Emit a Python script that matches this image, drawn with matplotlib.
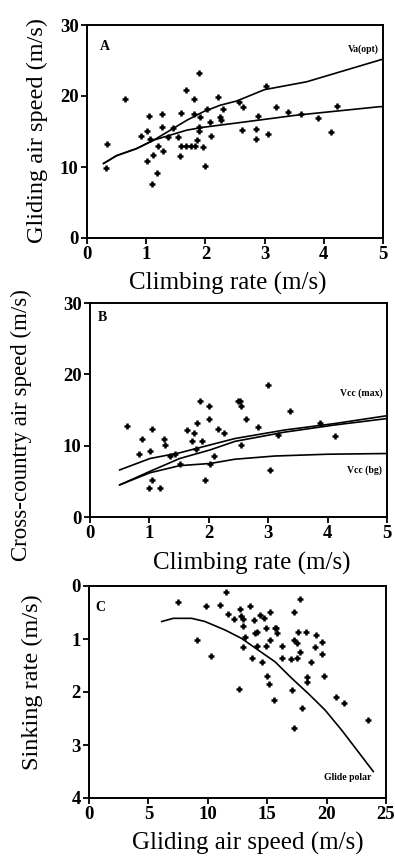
import matplotlib
matplotlib.use("Agg")
import matplotlib.pyplot as plt

plt.rcParams['font.family'] = ['Liberation Serif', 'DejaVu Serif']

# ---------------- Panel A data ----------------
a_climb = [0.33, 0.32, 0.65, 0.92, 1.02, 1.02, 1.05, 1.06, 1.12, 1.09, 1.19, 1.20, 1.26, 1.27,
           1.29, 1.37, 1.46, 1.54, 1.57, 1.59, 1.59, 1.67, 1.68, 1.76, 1.81, 1.81, 1.82, 1.85,
           1.90, 1.91, 1.90, 1.89, 1.96, 1.99, 2.03, 2.08, 2.09, 2.21, 2.24, 2.29, 2.27,
           2.57, 2.64, 2.61, 2.85, 2.85, 2.89, 3.02, 3.05, 3.19, 3.40, 3.62, 3.90, 4.13, 4.23]
a_glide = [13.3, 9.8, 19.6, 14.3, 15.1, 10.9, 17.2, 13.9, 11.7, 7.6, 9.1, 12.9, 17.4, 15.6,
           12.3, 14.2, 15.5, 14.2, 11.5, 17.6, 13.0, 20.9, 13.0, 13.0, 17.4, 19.6, 12.9, 13.8,
           23.3, 17.1, 15.6, 15.1, 12.8, 10.2, 18.1, 16.4, 14.3, 19.8, 17.1, 18.1, 16.6,
           19.1, 18.5, 15.2, 15.4, 13.9, 17.2, 21.4, 14.6, 18.4, 17.7, 17.4, 16.9, 14.9, 18.6]
va_opt_x = [0.28, 0.50, 0.84, 1.13, 1.41, 1.69, 1.97, 2.25, 2.53, 3.00, 3.71, 5.00]
va_opt_y = [10.5, 11.6, 12.6, 13.8, 15.2, 16.6, 17.8, 18.7, 19.3, 20.9, 22.0, 25.2]
va_low_x = [0.28, 0.50, 0.84, 1.13, 1.41, 1.69, 1.97, 2.25, 2.53, 3.54, 4.95, 5.00]
va_low_y = [10.5, 11.6, 12.6, 13.8, 14.5, 15.2, 15.6, 15.9, 16.2, 17.3, 18.5, 18.5]

# ---------------- Panel B data ----------------
b_climb = [0.62, 1.04, 0.87, 0.83, 1.01, 1.24, 1.26, 1.05, 1.00, 1.18, 1.63, 1.75, 1.80,
           1.85, 2.01, 2.01, 1.71, 1.89, 2.16, 2.25, 2.09, 1.93, 1.35, 1.51, 1.79, 2.02,
           2.49, 2.52, 2.54, 2.62, 2.82, 3.00, 3.36, 3.87, 4.12, 3.03, 2.55, 3.17, 1.43]
b_cc = [12.7, 12.4, 11.0, 8.9, 9.2, 11.0, 10.1, 5.2, 4.0, 4.0, 12.2, 11.8, 13.2,
        16.3, 15.6, 13.8, 10.7, 10.7, 12.4, 11.8, 8.6, 5.2, 8.6, 7.5, 9.6, 7.5,
        16.3, 16.3, 15.6, 13.8, 12.6, 18.5, 14.9, 13.2, 11.3, 6.6, 10.1, 11.5, 8.9]
vcc_max_x = [0.50, 1.01, 1.51, 2.02, 2.44, 3.28, 4.12, 5.00]
vcc_max_y = [6.6, 8.2, 9.0, 10.1, 11.0, 12.2, 13.1, 14.2]
vcc_mid_x = [0.50, 1.01, 1.51, 2.02, 2.44, 3.28, 4.12, 5.00]
vcc_mid_y = [4.5, 6.4, 8.2, 9.4, 10.6, 11.9, 12.9, 13.8]
vcc_bg_x = [0.50, 1.01, 1.51, 2.02, 2.44, 3.11, 4.00, 5.00]
vcc_bg_y = [4.5, 6.2, 7.2, 7.5, 8.1, 8.55, 8.8, 8.9]

# ---------------- Panel C data ----------------
c_speed = [11.53, 7.52, 9.85, 11.03, 11.73, 12.2, 12.71, 12.77, 12.93, 12.99, 13.55, 13.89,
           14.39, 14.73, 15.24, 13.97, 14.17, 13.13, 12.99, 14.11, 13.69, 14.54, 14.9, 15.24,
           14.9, 15.66, 9.12, 10.24, 12.65, 15.0, 15.18, 15.57,
           17.76, 17.26, 15.74, 15.8, 16.27, 17.26, 17.48, 17.62, 18.27, 17.76, 17.48, 16.98,
           16.27, 19.1, 19.59, 19.02, 19.59, 18.66, 18.38, 18.38, 19.78, 17.06, 17.9, 17.26,
           20.79, 21.46, 23.51]
c_sink = [0.11, 0.30, 0.38, 0.35, 0.53, 0.62, 0.43, 0.57, 0.63, 0.75, 0.38, 0.64,
          0.55, 0.60, 0.49, 0.88, 0.87, 0.97, 1.16, 1.13, 1.35, 1.43, 0.79, 1.01,
          1.13, 0.79, 1.01, 1.32, 1.94, 1.70, 1.85, 2.15,
          0.24, 0.49, 0.79, 0.88, 1.13, 1.01, 1.08, 0.86, 0.86, 1.25, 1.35, 1.38,
          1.35, 0.93, 1.06, 1.16, 1.28, 1.43, 1.71, 1.81, 1.70, 1.96, 2.30, 2.67,
          2.09, 2.21, 2.53]
polar_x = [6.12, 7.1, 8.64, 9.76, 11.45, 12.85, 14.25, 15.66, 17.06, 18.46, 19.87, 21.27, 22.67, 23.93]
polar_y = [0.67, 0.61, 0.61, 0.67, 0.83, 0.99, 1.21, 1.43, 1.74, 2.03, 2.34, 2.72, 3.13, 3.50]

W, H = 395, 861
fig = plt.figure(figsize=(W / 100, H / 100), dpi=100)


def make_ax(l, t, r, b):
    return fig.add_axes([l / W, (H - b) / H, (r - l) / W, (b - t) / H])


axA = make_ax(87, 25, 383, 238)
axB = make_ax(90, 303, 387, 517)
axC = make_ax(89, 586, 386, 798)

mk = dict(linestyle='none', marker='+', markersize=5, mew=1.8, color='black')
lk = dict(color='black', lw=1.2)
ylab_fs = 17.5
xlab_fs = 18
tick_fs = 13.5

for ax in (axA, axB, axC):
    for s in ax.spines.values():
        s.set_linewidth(1.4)
        s.set_color('black')
    ax.tick_params(direction='out', length=4, width=1.3, labelsize=tick_fs, colors='black', pad=2)
    for lab in ax.get_xticklabels() + ax.get_yticklabels():
        lab.set_fontweight('bold')

# Panel A
axA.plot(a_climb, a_glide, **mk)
axA.plot(va_opt_x, va_opt_y, **lk)
axA.plot(va_low_x, va_low_y, **lk)
axA.set_xlim(0, 5)
axA.set_ylim(0, 30)
axA.set_xticks([0, 1, 2, 3, 4, 5])
axA.set_yticks([0, 10, 20, 30])
axA.text(0.22, 27.0, 'A', fontsize=10, fontweight='bold', va='center', ha='left')
axA.text(4.93, 26.6, r'Va(opt)', fontsize=7, fontweight='bold', ha='right', va='center')
axA.text(-0.166, 0.507, 'Gliding air speed (m/s)', transform=axA.transAxes,
         rotation=90, ha='center', va='center', fontsize=ylab_fs)
axA.text(0.477, -0.215, 'Climbing rate (m/s)', transform=axA.transAxes,
         ha='center', va='center', fontsize=xlab_fs)

# Panel B
axB.plot(b_climb, b_cc, **mk)
axB.plot(vcc_max_x, vcc_max_y, **lk)
axB.plot(vcc_mid_x, vcc_mid_y, **lk)
axB.plot(vcc_bg_x, vcc_bg_y, **lk)
axB.set_xlim(0, 5)
axB.set_ylim(0, 30)
axB.set_xticks([0, 1, 2, 3, 4, 5])
axB.set_yticks([0, 10, 20, 30])
axB.text(0.13, 28.0, 'B', fontsize=10, fontweight='bold', va='center', ha='left')
axB.text(4.92, 17.4, 'Vcc (max)', fontsize=7, fontweight='bold', ha='right', va='center')
axB.text(4.92, 6.6, 'Vcc (bg)', fontsize=7, fontweight='bold', ha='right', va='center')
axB.text(-0.232, 0.43, 'Cross-country air speed (m/s)', transform=axB.transAxes,
         rotation=90, ha='center', va='center', fontsize=ylab_fs - 1)
axB.text(0.545, -0.218, 'Climbing rate (m/s)', transform=axB.transAxes,
         ha='center', va='center', fontsize=xlab_fs)

# Panel C
axC.plot(c_speed, c_sink, **mk)
axC.plot(polar_x, polar_y, **lk)
axC.set_xlim(0, 25)
axC.set_ylim(4, 0)
axC.set_xticks([0, 5, 10, 15, 20, 25])
axC.set_yticks([0, 1, 2, 3, 4])
axC.text(0.5, 0.4, 'C', fontsize=10, fontweight='bold', va='center', ha='left')
axC.text(23.8, 3.62, 'Glide polar', fontsize=7, fontweight='bold', ha='right', va='center')
axC.text(-0.19, 0.547, 'Sinking rate (m/s)', transform=axC.transAxes,
         rotation=90, ha='center', va='center', fontsize=ylab_fs)
axC.text(0.535, -0.215, 'Gliding air speed (m/s)', transform=axC.transAxes,
         ha='center', va='center', fontsize=xlab_fs)

fig.savefig('out.png', dpi=100, facecolor='white')
